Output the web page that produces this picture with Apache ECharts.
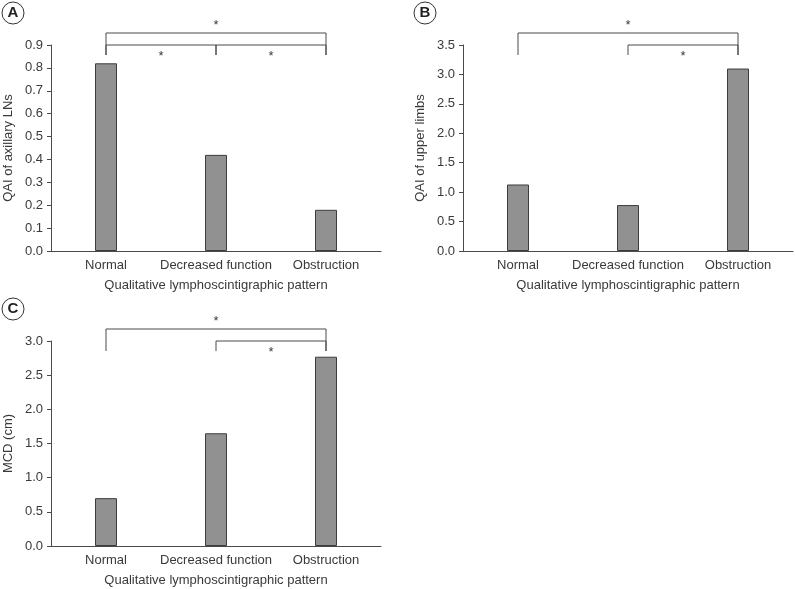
<!DOCTYPE html>
<html>
<head>
<meta charset="utf-8">
<script src="https://cdn.jsdelivr.net/npm/echarts@6/dist/echarts.min.js"></script>
<style>
html, body { margin: 0; padding: 0; background: #fff; }
#main { width: 795px; height: 589px; }
</style>
</head>
<body>
<div id="main"></div>
<script>
var categories = ['Normal', 'Decreased function', 'Obstruction'];
var qaiAxillary = [0.82, 0.42, 0.18];
var qaiUpperLimbs = [1.13, 0.78, 3.10];
var mcdValues = [0.70, 1.65, 2.77];
var xTitle = 'Qualitative lymphoscintigraphic pattern';
var yTitles = ['QAI of axillary LNs', 'QAI of upper limbs', 'MCD (cm)'];
var panelLetters = ['A', 'B', 'C'];
// significance brackets: [from category, to category, level]
var bracketsA = [[0, 1, 0], [1, 2, 0], [0, 2, 1]];
var bracketsB = [[1, 2, 0], [0, 2, 1]];
var bracketsC = [[1, 2, 0], [0, 2, 1]];

var txt = '#3a3a3a';
var lineCol = '#4a4a4a';
var font = 'Liberation Sans, Arial, sans-serif';

var myChart = echarts.init(document.getElementById('main'));

var grids = [
    {left: 51, top: 45, width: 330, height: 206},
    {left: 463, top: 45, width: 330, height: 206},
    {left: 51, top: 341, width: 330, height: 205}
];
var yMax = [0.9, 3.5, 3.0];
var yStep = [0.1, 0.5, 0.5];
var seriesData = [qaiAxillary, qaiUpperLimbs, mcdValues];

var xAxes = [], yAxes = [], series = [];
for (var i = 0; i < 3; i++) {
    xAxes.push({
        type: 'category',
        gridIndex: i,
        data: categories,
        name: xTitle,
        nameLocation: 'middle',
        nameGap: 28,
        nameTextStyle: {color: txt, fontSize: 13, fontFamily: font},
        axisLine: {lineStyle: {color: lineCol, width: 1}},
        axisTick: {length: 5, lineStyle: {color: lineCol}},
        axisLabel: {color: txt, fontSize: 13, fontFamily: font, margin: 8, interval: 0}
    });
    yAxes.push({
        type: 'value',
        gridIndex: i,
        min: 0,
        max: yMax[i],
        interval: yStep[i],
        name: yTitles[i],
        nameLocation: 'middle',
        nameGap: 36,
        nameTextStyle: {color: txt, fontSize: 13, fontFamily: font},
        axisLine: {show: true, lineStyle: {color: lineCol, width: 1}},
        axisTick: {show: true, length: 4, lineStyle: {color: lineCol}},
        axisLabel: {
            color: txt, fontSize: 13, fontFamily: font, margin: 8,
            formatter: function (v) { return v.toFixed(1); }
        },
        splitLine: {show: false}
    });
    series.push({
        type: 'bar',
        xAxisIndex: i,
        yAxisIndex: i,
        barWidth: '20%',
        data: seriesData[i],
        itemStyle: {color: '#919191', borderColor: '#3c3c3c', borderWidth: 1}
    });
}

myChart.setOption({
    animation: false,
    grid: grids,
    xAxis: xAxes,
    yAxis: yAxes,
    series: series
});

// brackets and panel letters, placed from the axes
var allBrackets = [bracketsA, bracketsB, bracketsC];
var graphics = [];
for (var p = 0; p < 3; p++) {
    var topY = myChart.convertToPixel({yAxisIndex: p}, yMax[p]);
    var footY = topY + 10;
    allBrackets[p].forEach(function (b) {
        var x1 = myChart.convertToPixel({xAxisIndex: p}, b[0]);
        var x2 = myChart.convertToPixel({xAxisIndex: p}, b[1]);
        var y = b[2] === 0 ? topY : topY - 12;
        graphics.push({
            type: 'polyline',
            shape: {points: [[x1, footY], [x1, y], [x2, y], [x2, footY]]},
            style: {stroke: lineCol, lineWidth: 1, fill: null}
        });
        graphics.push({
            type: 'text',
            x: (x1 + x2) / 2,
            y: b[2] === 0 ? y + 11 : y - 8,
            style: {text: '*', fill: txt, fontSize: 13, fontFamily: font, align: 'center', verticalAlign: 'middle'}
        });
    });
    var cx = grids[p].left - 38;
    var cy = grids[p].top - 32;
    graphics.push({
        type: 'circle',
        shape: {cx: cx, cy: cy, r: 11},
        style: {stroke: '#333', lineWidth: 1, fill: '#fff'}
    });
    graphics.push({
        type: 'text',
        x: cx,
        y: cy,
        style: {text: panelLetters[p], fill: '#222', fontSize: 15, fontWeight: 'bold', fontFamily: font, align: 'center', verticalAlign: 'middle'}
    });
}
myChart.setOption({graphic: graphics});
</script>
</body>
</html>
